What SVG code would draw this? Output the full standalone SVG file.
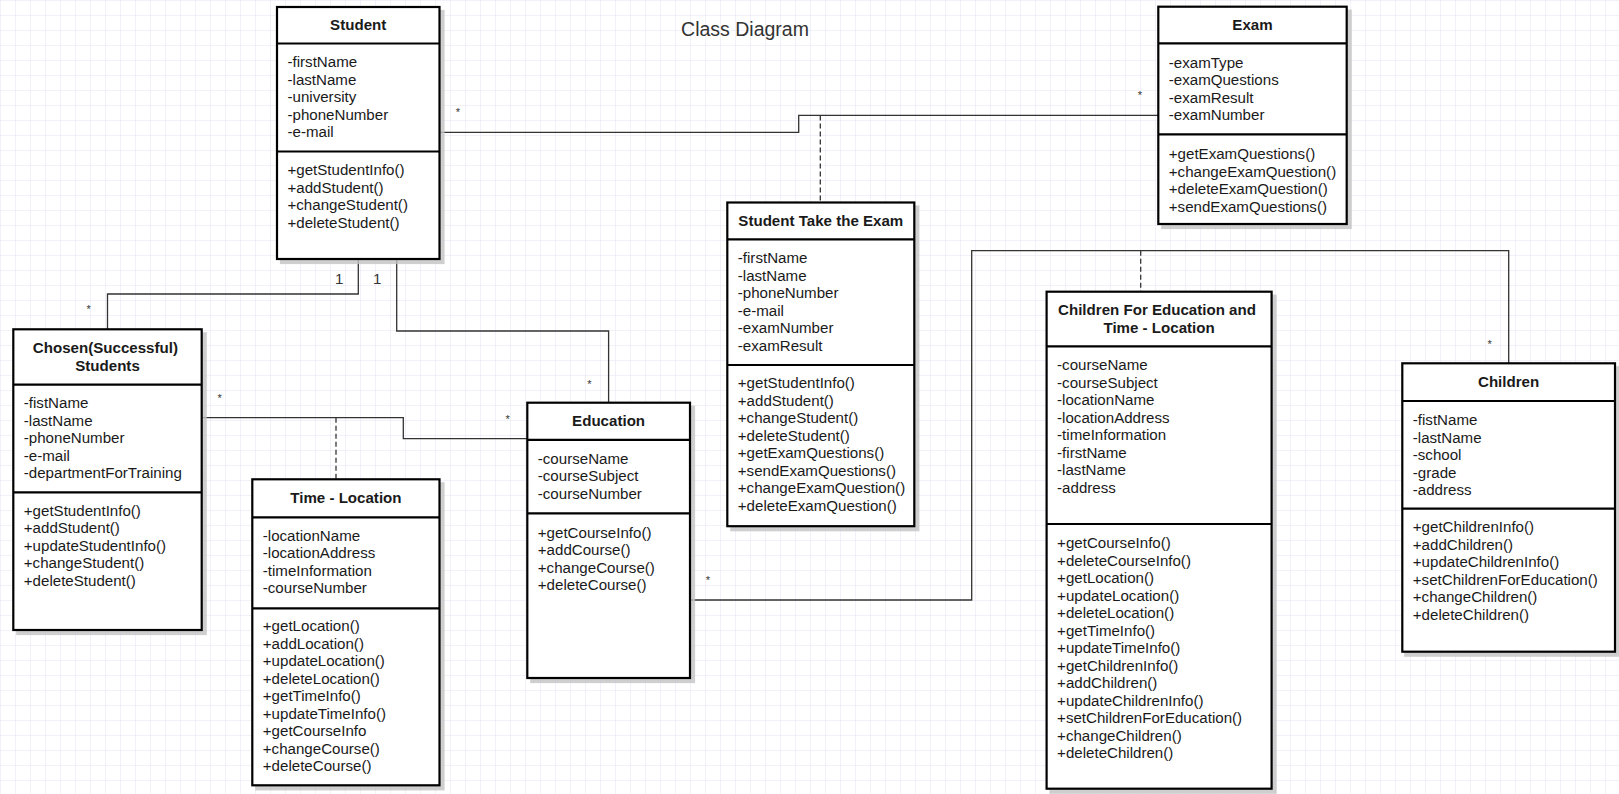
<svg xmlns="http://www.w3.org/2000/svg" width="1619" height="794" viewBox="0 0 1619 794">
  <defs>
    <pattern id="grid" width="15" height="15" patternUnits="userSpaceOnUse">
      <path d="M15 0H0V15" fill="none" stroke="#e3e3f3" stroke-width="1"/>
    </pattern>
    <style>
      .shadow { fill: #c4c4c4; stroke: #c4c4c4; stroke-width: 2.2; opacity: 0.8; }
      .box { fill: #ffffff; stroke: #000000; stroke-width: 2.2; }
      .sep { stroke: #000000; stroke-width: 2.2; }
      .h { font-family: "Liberation Sans", Arial, sans-serif; font-size: 15.1px; font-weight: bold; fill: #1a1a1a; text-anchor: middle; }
      .t { font-family: "Liberation Sans", Arial, sans-serif; font-size: 15.1px; fill: #1a1a1a; }
      .conn { fill: none; stroke: #333333; stroke-width: 1.3; }
      .dash { fill: none; stroke: #333333; stroke-width: 1.3; stroke-dasharray: 5 3; }
      .mult { font-family: "Liberation Sans", Arial, sans-serif; font-size: 11px; fill: #333333; text-anchor: middle; }
      .one { font-family: "Liberation Sans", Arial, sans-serif; font-size: 15.1px; fill: #333333; text-anchor: middle; }
      .title { font-family: "Liberation Sans", Arial, sans-serif; font-size: 19.5px; fill: #333333; text-anchor: middle; }
    </style>
  </defs>

  <!-- canvas -->
  <rect x="0" y="0" width="1619" height="794" fill="#ffffff"/>
  <rect x="0" y="0" width="1619" height="794" fill="url(#grid)"/>

  <text class="title" x="745" y="36">Class Diagram</text>

  <!-- associations -->
  <g id="connectors">
    <!-- Student - Exam -->
    <path class="conn" d="M439.5 132.3H798.7V115.4H1158.3"/>
    <path class="dash" d="M820.3 115.4V202.5"/>
    <text class="mult" x="458" y="116">*</text>
    <text class="mult" x="1140" y="99">*</text>
    <!-- Student - Chosen(Successful) Students -->
    <path class="conn" d="M358.3 259V294H107.5V329.3"/>
    <text class="one" x="339.3" y="283.6">1</text>
    <text class="mult" x="88.7" y="313">*</text>
    <!-- Student - Education -->
    <path class="conn" d="M396.7 259V331H608.6V402.7"/>
    <text class="one" x="377.3" y="283.6">1</text>
    <text class="mult" x="589.5" y="387.5">*</text>
    <!-- Chosen(Successful) Students - Education -->
    <path class="conn" d="M201.7 417.7H403.3V438.7H527.3"/>
    <path class="dash" d="M336 417.7V479.3"/>
    <text class="mult" x="219.7" y="402">*</text>
    <text class="mult" x="507.7" y="423">*</text>
    <!-- Education - Children -->
    <path class="conn" d="M690 600H971.7V250.7H1508.7V363.3"/>
    <path class="dash" d="M1140.7 250.7V291.7"/>
    <text class="mult" x="708" y="583.5">*</text>
    <text class="mult" x="1489.7" y="348">*</text>
  </g>

  <!-- Student -->
  <g id="student">
    <g transform="translate(4 4)">
      <rect class="shadow" x="277" y="7" width="162.5" height="252"/>
    </g>
    <rect class="box" x="277" y="7" width="162.5" height="252"/>
    <line class="sep" x1="277" y1="43.5" x2="439.5" y2="43.5"/>
    <line class="sep" x1="277" y1="151.5" x2="439.5" y2="151.5"/>
    <text class="h" x="358.2" y="30">Student</text>
    <text class="t" y="67.3">
      <tspan x="287.5">-firstName</tspan>
      <tspan x="287.5" dy="17.5">-lastName</tspan>
      <tspan x="287.5" dy="17.5">-university</tspan>
      <tspan x="287.5" dy="17.5">-phoneNumber</tspan>
      <tspan x="287.5" dy="17.5">-e-mail</tspan>
    </text>
    <text class="t" y="175">
      <tspan x="287.5">+getStudentInfo()</tspan>
      <tspan x="287.5" dy="17.5">+addStudent()</tspan>
      <tspan x="287.5" dy="17.5">+changeStudent()</tspan>
      <tspan x="287.5" dy="17.5">+deleteStudent()</tspan>
    </text>
  </g>

  <!-- Exam -->
  <g id="exam">
    <g transform="translate(4 4)">
      <rect class="shadow" x="1158.3" y="6.7" width="188.4" height="217.3"/>
    </g>
    <rect class="box" x="1158.3" y="6.7" width="188.4" height="217.3"/>
    <line class="sep" x1="1158.3" y1="43.3" x2="1346.7" y2="43.3"/>
    <line class="sep" x1="1158.3" y1="134.3" x2="1346.7" y2="134.3"/>
    <text class="h" x="1252.5" y="30">Exam</text>
    <text class="t" y="67.7">
      <tspan x="1168.8">-examType</tspan>
      <tspan x="1168.8" dy="17.5">-examQuestions</tspan>
      <tspan x="1168.8" dy="17.5">-examResult</tspan>
      <tspan x="1168.8" dy="17.5">-examNumber</tspan>
    </text>
    <text class="t" y="159">
      <tspan x="1168.8">+getExamQuestions()</tspan>
      <tspan x="1168.8" dy="17.5">+changeExamQuestion()</tspan>
      <tspan x="1168.8" dy="17.5">+deleteExamQuestion()</tspan>
      <tspan x="1168.8" dy="17.5">+sendExamQuestions()</tspan>
    </text>
  </g>

  <!-- Student Take the Exam -->
  <g id="student-take-the-exam">
    <g transform="translate(4 4)">
      <rect class="shadow" x="727.3" y="202.5" width="187" height="323.7"/>
    </g>
    <rect class="box" x="727.3" y="202.5" width="187" height="323.7"/>
    <line class="sep" x1="727.3" y1="239.3" x2="914.3" y2="239.3"/>
    <line class="sep" x1="727.3" y1="365" x2="914.3" y2="365"/>
    <text class="h" x="820.8" y="225.7">Student Take the Exam</text>
    <text class="t" y="263.3">
      <tspan x="737.8">-firstName</tspan>
      <tspan x="737.8" dy="17.5">-lastName</tspan>
      <tspan x="737.8" dy="17.5">-phoneNumber</tspan>
      <tspan x="737.8" dy="17.5">-e-mail</tspan>
      <tspan x="737.8" dy="17.5">-examNumber</tspan>
      <tspan x="737.8" dy="17.5">-examResult</tspan>
    </text>
    <text class="t" y="388.3">
      <tspan x="737.8">+getStudentInfo()</tspan>
      <tspan x="737.8" dy="17.5">+addStudent()</tspan>
      <tspan x="737.8" dy="17.5">+changeStudent()</tspan>
      <tspan x="737.8" dy="17.5">+deleteStudent()</tspan>
      <tspan x="737.8" dy="17.5">+getExamQuestions()</tspan>
      <tspan x="737.8" dy="17.5">+sendExamQuestions()</tspan>
      <tspan x="737.8" dy="17.5">+changeExamQuestion()</tspan>
      <tspan x="737.8" dy="17.5">+deleteExamQuestion()</tspan>
    </text>
  </g>

  <!-- Chosen(Successful) Students -->
  <g id="chosen-students">
    <g transform="translate(4 4)">
      <rect class="shadow" x="13.3" y="329.3" width="188.4" height="300.7"/>
    </g>
    <rect class="box" x="13.3" y="329.3" width="188.4" height="300.7"/>
    <line class="sep" x1="13.3" y1="384.7" x2="201.7" y2="384.7"/>
    <line class="sep" x1="13.3" y1="492.3" x2="201.7" y2="492.3"/>
    <text class="h" y="353.3">
      <tspan x="107.5">Chosen(Successful)</tspan>
      <tspan x="107.5" dy="17.4">Students</tspan>
    </text>
    <text class="t" y="408.3">
      <tspan x="23.8">-fistName</tspan>
      <tspan x="23.8" dy="17.5">-lastName</tspan>
      <tspan x="23.8" dy="17.5">-phoneNumber</tspan>
      <tspan x="23.8" dy="17.5">-e-mail</tspan>
      <tspan x="23.8" dy="17.5">-departmentForTraining</tspan>
    </text>
    <text class="t" y="515.7">
      <tspan x="23.8">+getStudentInfo()</tspan>
      <tspan x="23.8" dy="17.5">+addStudent()</tspan>
      <tspan x="23.8" dy="17.5">+updateStudentInfo()</tspan>
      <tspan x="23.8" dy="17.5">+changeStudent()</tspan>
      <tspan x="23.8" dy="17.5">+deleteStudent()</tspan>
    </text>
  </g>

  <!-- Time - Location -->
  <g id="time-location">
    <g transform="translate(4 4)">
      <rect class="shadow" x="252.3" y="479.3" width="187.2" height="306"/>
    </g>
    <rect class="box" x="252.3" y="479.3" width="187.2" height="306"/>
    <line class="sep" x1="252.3" y1="517.3" x2="439.5" y2="517.3"/>
    <line class="sep" x1="252.3" y1="608.3" x2="439.5" y2="608.3"/>
    <text class="h" x="345.9" y="503.3">Time - Location</text>
    <text class="t" y="540.7">
      <tspan x="262.8">-locationName</tspan>
      <tspan x="262.8" dy="17.5">-locationAddress</tspan>
      <tspan x="262.8" dy="17.5">-timeInformation</tspan>
      <tspan x="262.8" dy="17.5">-courseNumber</tspan>
    </text>
    <text class="t" y="631">
      <tspan x="262.8">+getLocation()</tspan>
      <tspan x="262.8" dy="17.5">+addLocation()</tspan>
      <tspan x="262.8" dy="17.5">+updateLocation()</tspan>
      <tspan x="262.8" dy="17.5">+deleteLocation()</tspan>
      <tspan x="262.8" dy="17.5">+getTimeInfo()</tspan>
      <tspan x="262.8" dy="17.5">+updateTimeInfo()</tspan>
      <tspan x="262.8" dy="17.5">+getCourseInfo</tspan>
      <tspan x="262.8" dy="17.5">+changeCourse()</tspan>
      <tspan x="262.8" dy="17.5">+deleteCourse()</tspan>
    </text>
  </g>

  <!-- Education -->
  <g id="education">
    <g transform="translate(4 4)">
      <rect class="shadow" x="527.3" y="402.7" width="162.7" height="275.3"/>
    </g>
    <rect class="box" x="527.3" y="402.7" width="162.7" height="275.3"/>
    <line class="sep" x1="527.3" y1="439.8" x2="690" y2="439.8"/>
    <line class="sep" x1="527.3" y1="513.3" x2="690" y2="513.3"/>
    <text class="h" x="608.6" y="426.3">Education</text>
    <text class="t" y="463.8">
      <tspan x="537.8">-courseName</tspan>
      <tspan x="537.8" dy="17.5">-courseSubject</tspan>
      <tspan x="537.8" dy="17.5">-courseNumber</tspan>
    </text>
    <text class="t" y="537.7">
      <tspan x="537.8">+getCourseInfo()</tspan>
      <tspan x="537.8" dy="17.5">+addCourse()</tspan>
      <tspan x="537.8" dy="17.5">+changeCourse()</tspan>
      <tspan x="537.8" dy="17.5">+deleteCourse()</tspan>
    </text>
  </g>

  <!-- Children For Education and Time - Location -->
  <g id="children-for-education">
    <g transform="translate(4 4)">
      <rect class="shadow" x="1046.6" y="291.7" width="225" height="497"/>
    </g>
    <rect class="box" x="1046.6" y="291.7" width="225" height="497"/>
    <line class="sep" x1="1046.6" y1="346.4" x2="1271.6" y2="346.4"/>
    <line class="sep" x1="1046.6" y1="524" x2="1271.6" y2="524"/>
    <text class="h" y="315.3">
      <tspan x="1159.1">Children For Education and</tspan>
      <tspan x="1159.1" dy="17.5">Time - Location</tspan>
    </text>
    <text class="t" y="370">
      <tspan x="1057.1">-courseName</tspan>
      <tspan x="1057.1" dy="17.5">-courseSubject</tspan>
      <tspan x="1057.1" dy="17.5">-locationName</tspan>
      <tspan x="1057.1" dy="17.5">-locationAddress</tspan>
      <tspan x="1057.1" dy="17.5">-timeInformation</tspan>
      <tspan x="1057.1" dy="17.5">-firstName</tspan>
      <tspan x="1057.1" dy="17.5">-lastName</tspan>
      <tspan x="1057.1" dy="17.5">-address</tspan>
    </text>
    <text class="t" y="548.3">
      <tspan x="1057.1">+getCourseInfo()</tspan>
      <tspan x="1057.1" dy="17.5">+deleteCourseInfo()</tspan>
      <tspan x="1057.1" dy="17.5">+getLocation()</tspan>
      <tspan x="1057.1" dy="17.5">+updateLocation()</tspan>
      <tspan x="1057.1" dy="17.5">+deleteLocation()</tspan>
      <tspan x="1057.1" dy="17.5">+getTimeInfo()</tspan>
      <tspan x="1057.1" dy="17.5">+updateTimeInfo()</tspan>
      <tspan x="1057.1" dy="17.5">+getChildrenInfo()</tspan>
      <tspan x="1057.1" dy="17.5">+addChildren()</tspan>
      <tspan x="1057.1" dy="17.5">+updateChildrenInfo()</tspan>
      <tspan x="1057.1" dy="17.5">+setChildrenForEducation()</tspan>
      <tspan x="1057.1" dy="17.5">+changeChildren()</tspan>
      <tspan x="1057.1" dy="17.5">+deleteChildren()</tspan>
    </text>
  </g>

  <!-- Children -->
  <g id="children">
    <g transform="translate(3 4)">
      <rect class="shadow" x="1402.3" y="363.3" width="212.7" height="288.4"/>
    </g>
    <rect class="box" x="1402.3" y="363.3" width="212.7" height="288.4"/>
    <line class="sep" x1="1402.3" y1="401" x2="1615" y2="401"/>
    <line class="sep" x1="1402.3" y1="508.7" x2="1615" y2="508.7"/>
    <text class="h" x="1508.6" y="387">Children</text>
    <text class="t" y="425">
      <tspan x="1412.8">-fistName</tspan>
      <tspan x="1412.8" dy="17.5">-lastName</tspan>
      <tspan x="1412.8" dy="17.5">-school</tspan>
      <tspan x="1412.8" dy="17.5">-grade</tspan>
      <tspan x="1412.8" dy="17.5">-address</tspan>
    </text>
    <text class="t" y="532.3">
      <tspan x="1412.8">+getChildrenInfo()</tspan>
      <tspan x="1412.8" dy="17.5">+addChildren()</tspan>
      <tspan x="1412.8" dy="17.5">+updateChildrenInfo()</tspan>
      <tspan x="1412.8" dy="17.5">+setChildrenForEducation()</tspan>
      <tspan x="1412.8" dy="17.5">+changeChildren()</tspan>
      <tspan x="1412.8" dy="17.5">+deleteChildren()</tspan>
    </text>
  </g>
</svg>
